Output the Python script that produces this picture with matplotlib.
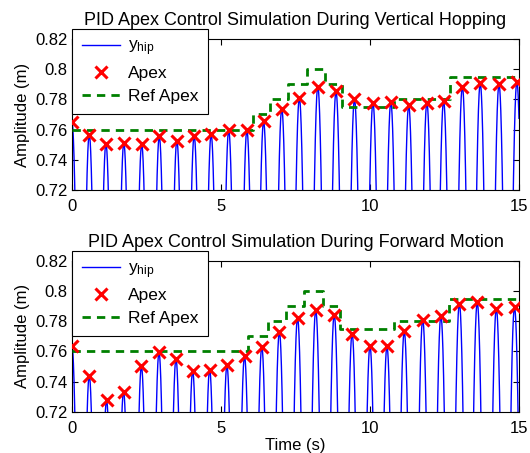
import numpy as np
import matplotlib
matplotlib.use("Agg")
import matplotlib.pyplot as plt

plt.rcParams["font.family"] = ["Liberation Sans", "DejaVu Sans"]
plt.rcParams["mathtext.fontset"] = "custom"
plt.rcParams["mathtext.rm"] = "Liberation Sans"
plt.rcParams["mathtext.it"] = "Liberation Sans"

# Apex data (time in s, height in m)
vert_apex_t = [0, 0.58, 1.14, 1.74, 2.34, 2.93, 3.52, 4.10, 4.67, 5.26, 5.87, 6.43, 7.04,
               7.63, 8.25, 8.86, 9.48, 10.10, 10.70, 11.30, 11.91, 12.47, 13.10, 13.70,
               14.33, 14.93]
vert_apex_y = [0.7649, 0.7567, 0.7507, 0.7511, 0.7502, 0.7555, 0.7527, 0.7560, 0.7569,
               0.7596, 0.7596, 0.7654, 0.7738, 0.7809, 0.7885, 0.7853, 0.7800, 0.7778,
               0.7782, 0.7760, 0.7778, 0.7789, 0.7885, 0.7907, 0.7900, 0.7915]

fwd_apex_t = [0, 0.58, 1.16, 1.73, 2.33, 2.92, 3.49, 4.05, 4.62, 5.20, 5.79, 6.37, 6.96,
              7.57, 8.18, 8.80, 9.40, 10.00, 10.57, 11.15, 11.77, 12.38, 13.00, 13.60,
              14.24, 14.85]
fwd_apex_y = [0.7635, 0.7440, 0.7276, 0.7334, 0.7502, 0.7595, 0.7551, 0.7471, 0.7480,
              0.7507, 0.7568, 0.7630, 0.7730, 0.7822, 0.7873, 0.7845, 0.7719, 0.7637,
              0.7633, 0.7734, 0.7812, 0.7836, 0.7918, 0.7925, 0.7885, 0.7892]

# Reference apex step edges and levels
vert_ref_t = [0, 6.07, 6.65, 7.26, 7.88, 8.50, 9.05, 10.80, 12.68, 15]
fwd_ref_t = [0, 5.92, 6.57, 7.19, 7.79, 8.42, 9.00, 10.81, 12.64, 15]
ref_levels = [0.76, 0.77, 0.78, 0.79, 0.80, 0.79, 0.775, 0.78, 0.795]

titles = ["PID Apex Control Simulation During Vertical Hopping",
          "PID Apex Control Simulation During Forward Motion"]


def hip_trace(apex_t, apex_y):
    # ballistic flight arcs around each apex
    t = np.arange(0, 15.0005, 0.002)
    at = np.array(apex_t)
    ay = np.array(apex_y)
    idx = np.abs(t[:, None] - at[None, :]).argmin(axis=1)
    y = ay[idx] - 0.5 * 9.81 * (t - at[idx]) ** 2
    return t, y


fig = plt.figure(figsize=(5.30, 4.53), dpi=100)
ax1 = fig.add_axes([0.1358, 0.5806, 0.8434, 0.3333])
ax2 = fig.add_axes([0.1358, 0.0912, 0.8434, 0.3325])

datasets = [(ax1, vert_apex_t, vert_apex_y, vert_ref_t),
            (ax2, fwd_apex_t, fwd_apex_y, fwd_ref_t)]

for i, (ax, at, ay, rt) in enumerate(datasets):
    t, y = hip_trace(at, ay)
    ax.plot(t, y, color=(0, 0, 1), lw=1.0, label=r"$\mathrm{y}_{\mathrm{hip}}$")
    ax.plot(at, ay, "x", color="red", ms=8, mew=2.2, label="Apex", zorder=4)
    ax.step(rt, ref_levels + [ref_levels[-1]], where="post", color=(0, 0.5, 0),
            lw=2, ls=(0, (3, 2.2)), label="Ref Apex", zorder=3)
    ax.set_xlim(0, 15)
    ax.set_ylim(0.72, 0.82)
    ax.set_xticks([0, 5, 10, 15])
    ax.set_yticks([0.72, 0.74, 0.76, 0.78, 0.8, 0.82])
    ax.set_yticklabels(["0.72", "0.74", "0.76", "0.78", "0.8", "0.82"])
    ax.tick_params(direction="in", top=True, right=True, labelsize=12, length=4)
    ax.tick_params(axis="x", pad=6.5)
    ax.tick_params(axis="y", pad=3)
    ax.set_ylabel("Amplitude (m)", fontsize=12)
    ax.set_title(titles[i], fontsize=13, pad=10)
    leg = ax.legend(loc="upper left", bbox_to_anchor=(0.0, 1.066), borderaxespad=0,
                    fontsize=12.5, frameon=True, fancybox=False, framealpha=1,
                    edgecolor="black", handlelength=2.2, borderpad=0.55,
                    labelspacing=0.45, handletextpad=0.45)
    leg.get_frame().set_linewidth(0.8)
    leg.set_zorder(10)

ax2.set_xlabel("Time (s)", fontsize=12, labelpad=2)

fig.savefig("out.png", dpi=100)
